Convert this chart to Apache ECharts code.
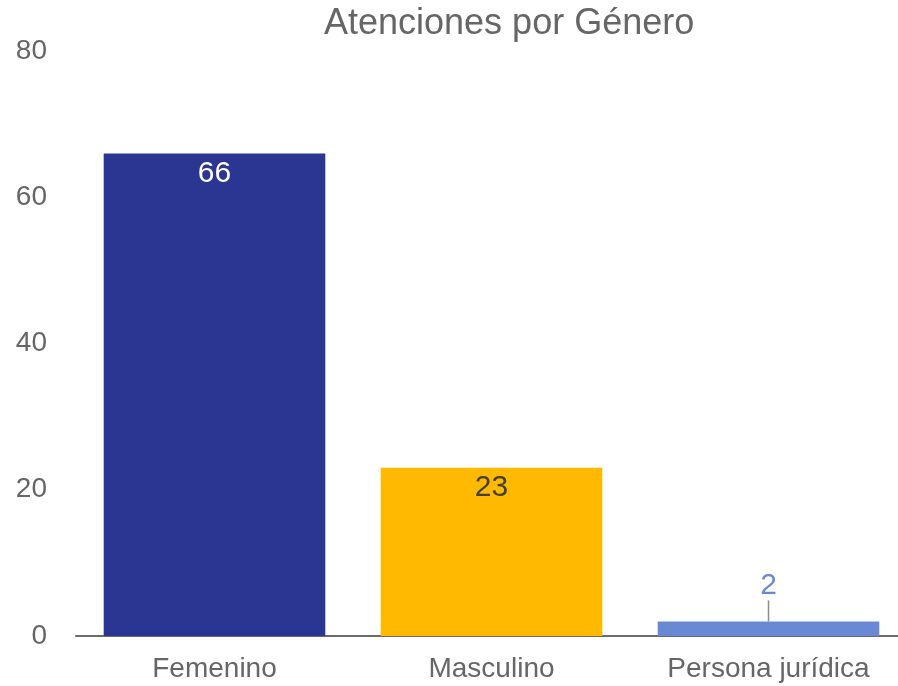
<!DOCTYPE html>
<html><head><meta charset="utf-8">
<script src="https://cdn.jsdelivr.net/npm/echarts@6/dist/echarts.min.js"></script>
<style>html,body{margin:0;padding:0;background:#fff}#c{width:898px;height:686px}</style>
</head><body><div id="c"></div>
<script>
const categories = ['Femenino', 'Masculino', 'Persona jurídica'];
const values = [66, 23, 2];
const barColors = ['#2B3592', '#FFB900', '#6A89D5'];
const labelColors = ['#FFFFFF', '#404040', '#6A89D5'];
const yTicks = [0, 20, 40, 60, 80];

const FONT = '"Liberation Sans", Arial, sans-serif';
const chart = echarts.init(document.getElementById('c'));
chart.setOption({
  animation: false,
  title: {
    text: 'Atenciones por Género', left: 319, top: 1,
    textStyle: { fontFamily: FONT, fontSize: 36, fontWeight: 'normal', color: '#666666' }
  },
  grid: { left: 76, width: 831, top: 51, bottom: 50, containLabel: false, outerBoundsMode: 'none' },
  xAxis: {
    type: 'category', data: categories,
    axisLine: { lineStyle: { color: '#6b6b6b', width: 2 } },
    axisTick: { show: false },
    axisLabel: { fontFamily: FONT, fontSize: 28, color: '#666666', margin: 19 }
  },
  yAxis: {
    type: 'value', min: yTicks[0], max: yTicks[yTicks.length - 1], interval: 20,
    axisLine: { show: false }, axisTick: { show: false }, splitLine: { show: false },
    axisLabel: { fontFamily: FONT, fontSize: 28, color: '#666666', margin: 29, padding: [5, 0, 0, 0] }
  },
  series: [{
    type: 'bar', barCategoryGap: '20%',
    data: values.map((v, i) => ({
      value: v,
      itemStyle: { color: barColors[i] },
      label: {
        show: true,
        position: i === 2 ? 'top' : 'insideTop',
        distance: i === 2 ? 0 : 5,
        color: labelColors[i], fontFamily: FONT, fontSize: 30
      }
    })),
    labelLine: { show: true, lineStyle: { color: '#8c8c8c', width: 1.5 } },
    labelLayout: function (p) { return p.dataIndex === 2 ? { dy: -21 } : {}; }
  }]
});
</script></body></html>
